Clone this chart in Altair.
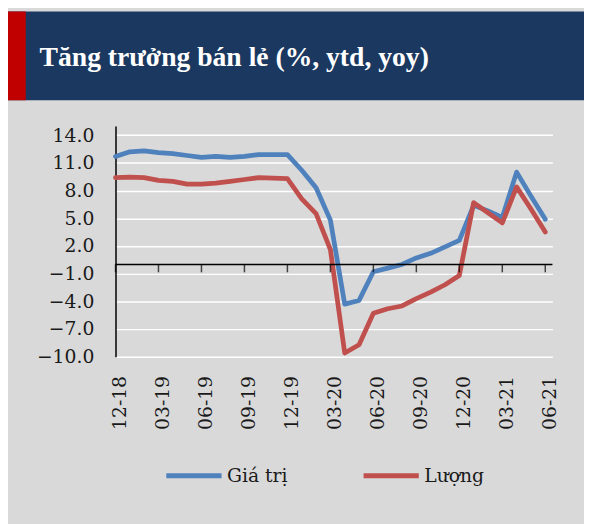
import altair as alt
import pandas as pd

TITLE = "Tăng trưởng bán lẻ (%, ytd, yoy)"

MONTHS = ["12-18", "01-19", "02-19", "03-19", "04-19", "05-19", "06-19",
          "07-19", "08-19", "09-19", "10-19", "11-19", "12-19",
          "01-20", "02-20", "03-20", "04-20", "05-20", "06-20",
          "07-20", "08-20", "09-20", "10-20", "11-20", "12-20",
          "01-21", "02-21", "03-21", "04-21", "05-21", "06-21"]

GIA_TRI = [11.7, 12.2, 12.3, 12.1, 12.0, 11.8, 11.6, 11.7, 11.6, 11.7, 11.9, 11.9, 11.9,
           10.2, 8.3, 4.8, -4.3, -3.9, -0.8, -0.4, 0.0, 0.7, 1.2, 1.9, 2.6,
           6.4, 5.8, 5.1, 10.0, 7.4, 4.9]
LUONG = [9.4, 9.45, 9.4, 9.1, 9.0, 8.7, 8.7, 8.8, 9.0, 9.2, 9.4, 9.35, 9.3,
         7.1, 5.5, 1.6, -9.6, -8.7, -5.3, -4.8, -4.5, -3.7, -3.0, -2.2, -1.2,
         6.7, 5.6, 4.5, 8.4, 6.0, 3.5]

SERIES = ["Giá trị", "Lượng"]
COLORS = ["#4f81bd", "#c0504d"]
Y_TICKS = [-10, -7, -4, -1, 2, 5, 8, 11, 14]
X_TICKS = list(range(0, len(MONTHS), 3))

rows = []
for i, m in enumerate(MONTHS):
    rows.append({"idx": i, "month": m, "series": SERIES[0], "value": GIA_TRI[i]})
for i, m in enumerate(MONTHS):
    rows.append({"idx": i, "month": m, "series": SERIES[1], "value": LUONG[i]})
df = pd.DataFrame(rows)

label_js = "[" + ",".join("'" + m + "'" for m in MONTHS) + "][datum.value]"

FONT = "DejaVu Serif"
TXT = "#1a1a1a"

x_scale = alt.Scale(domain=[0, len(MONTHS) - 0.5], nice=False, zero=False)
y_scale = alt.Scale(domain=[-10, 15], nice=False, zero=False)

X_AXIS = alt.Axis(values=X_TICKS, labelExpr=label_js, labelAngle=270,
                  domain=False, ticks=False, grid=False, title=None,
                  labelFont=FONT, labelFontSize=19, labelColor=TXT,
                  labelPadding=19, labelOffset=4, labelOverlap=False)
Y_AXIS = alt.Axis(values=Y_TICKS, format=".1f", title=None, ticks=False,
                  domain=True, domainColor="black", domainWidth=1.5,
                  grid=True, gridColor="white", gridWidth=1.5,
                  labelFont=FONT, labelFontSize=19, labelColor=TXT,
                  labelPadding=22, labelOverlap=False, labelBound=False,
                  labelFlush=False)

lines = alt.Chart(df).mark_line(strokeWidth=4.8, strokeCap="round", strokeJoin="round").encode(
    x=alt.X("idx:Q", scale=x_scale, axis=X_AXIS),
    y=alt.Y("value:Q", scale=y_scale, axis=Y_AXIS),
    color=alt.Color("series:N", scale=alt.Scale(domain=SERIES, range=COLORS),
                    legend=alt.Legend(orient="none", legendX=49, legendY=324,
                                      direction="horizontal", title=None,
                                      symbolType="stroke", symbolSize=3136,
                                      symbolStrokeWidth=5, labelFont=FONT,
                                      labelFontSize=19, labelColor=TXT,
                                      columnPadding=66, labelOffset=3, padding=0)),
    order=alt.Order("idx:Q"),
)

zero = alt.Chart(pd.DataFrame({"value": [0]})).mark_rule(color="black", strokeWidth=1.5).encode(
    y=alt.Y("value:Q", scale=y_scale, axis=Y_AXIS)
)

ticks = alt.Chart(pd.DataFrame({"idx": X_TICKS, "value": [0] * len(X_TICKS)})).mark_tick(
    orient="vertical", size=8, thickness=1.5, yOffset=4, color="black"
).encode(
    x=alt.X("idx:Q", scale=x_scale, axis=X_AXIS),
    y=alt.Y("value:Q", scale=y_scale, axis=Y_AXIS),
)

one = pd.DataFrame({"t": [TITLE]})
header = alt.Chart(one).mark_rect(color="#1a3860").encode(
    x=alt.value(-109), x2=alt.value(475), y=alt.value(-116), y2=alt.value(-26)
)
redbar = alt.Chart(one).mark_rect(color="#c00000").encode(
    x=alt.value(-109), x2=alt.value(-91), y=alt.value(-116), y2=alt.value(-26)
)
title = alt.Chart(one).mark_text(
    align="left", baseline="alphabetic", font="Liberation Serif", fontSize=28,
    fontWeight="bold", color="white"
).encode(text="t:N", x=alt.value(-77), y=alt.value(-61))

chart = alt.layer(header, redbar, title, lines, zero, ticks).properties(
    width=443, height=234,
    autosize=alt.AutoSizeParams(type="none"),
    padding={"left": 109, "top": 116, "right": 32, "bottom": 166},
    background="#d9d9d9",
).configure_view(strokeWidth=0).configure_axis(labelOverlap=False)

chart.save("out.html", embed_options={"renderer": "svg", "actions": False})
